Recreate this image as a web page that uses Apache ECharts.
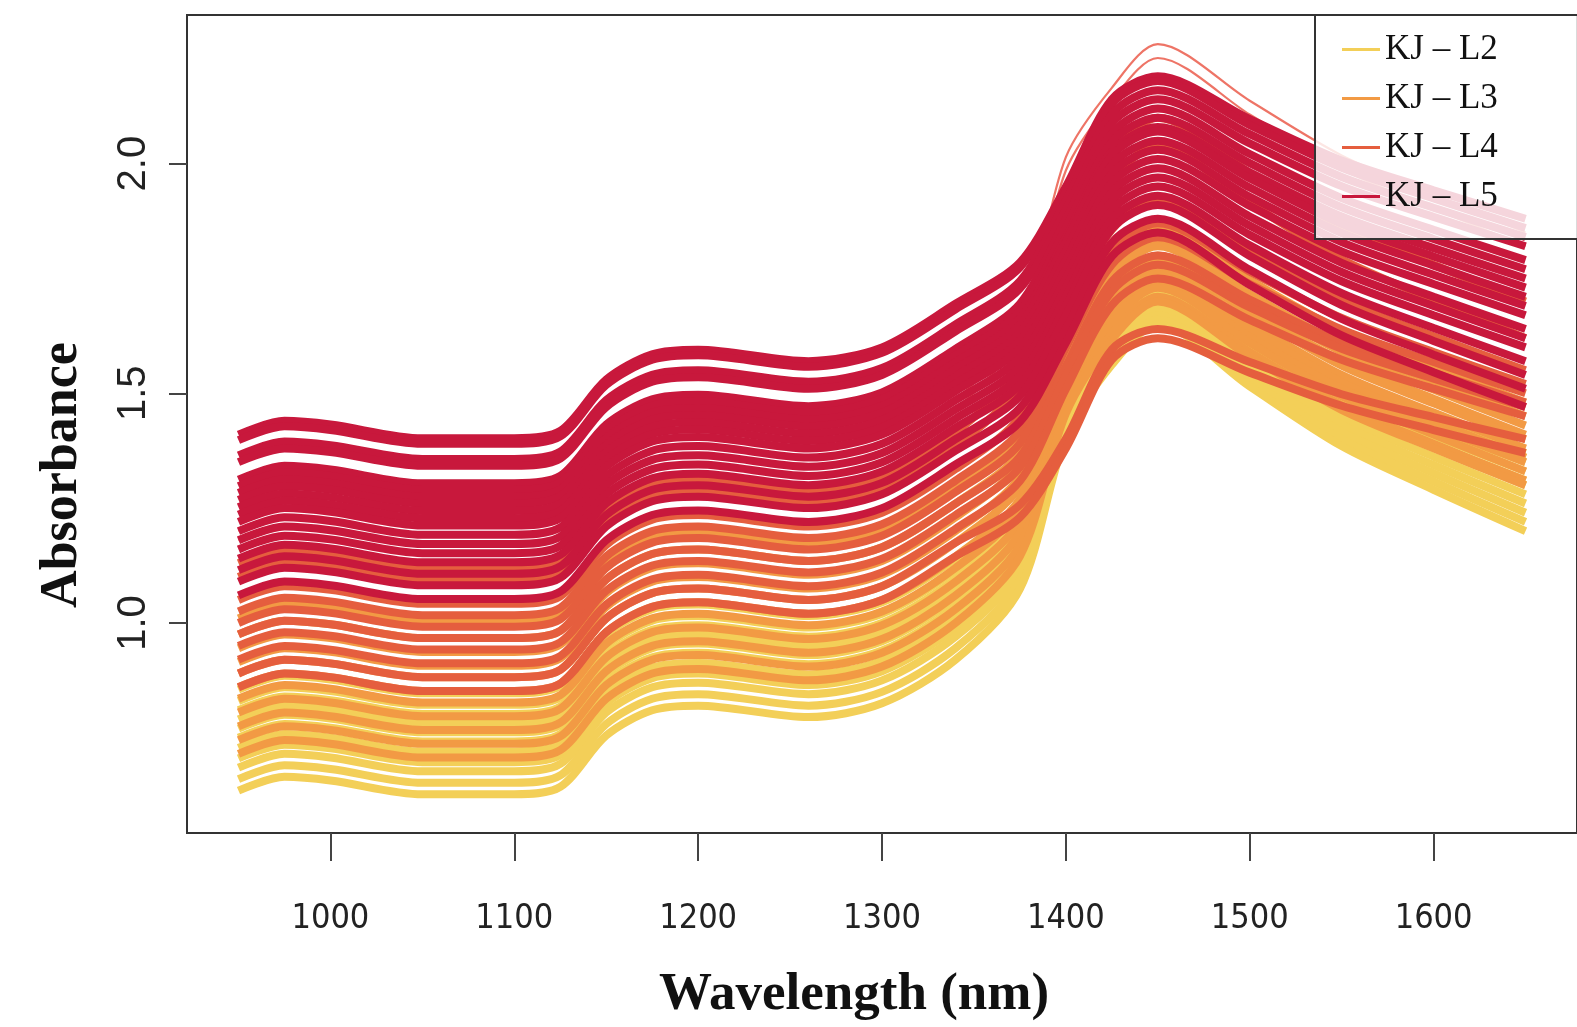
<!DOCTYPE html>
<html>
<head>
<meta charset="utf-8">
<script src="https://cdn.jsdelivr.net/npm/echarts@6/dist/echarts.min.js"></script>
<style>
html,body{margin:0;padding:0;background:#fff;}
#chart{width:1577px;height:1027px;}
</style>
</head>
<body>
<div id="chart"></div>
<script>
// Wavelength nodes (nm) at which each spectrum was read
const wavelengths = [950, 975, 1000, 1050, 1100, 1125, 1150, 1175, 1200, 1260, 1300, 1340, 1375, 1400, 1425, 1450, 1500, 1550, 1600, 1650];

const groupNames = ['KJ \u2013 L2', 'KJ \u2013 L3', 'KJ \u2013 L4', 'KJ \u2013 L5'];

const xTicks = [1000, 1100, 1200, 1300, 1400, 1500, 1600];
const yTicks = [1.0, 1.5, 2.0];

// Absorbance spectra, group KJ-L2
const spectraL2 = [
  [0.855, 0.885, 0.877, 0.847, 0.847, 0.863, 0.975, 1.030, 1.040, 1.015, 1.045, 1.140, 1.258, 1.498, 1.673, 1.740, 1.629, 1.522, 1.444, 1.370],
  [0.830, 0.860, 0.852, 0.822, 0.822, 0.838, 0.950, 1.005, 1.015, 0.990, 1.020, 1.115, 1.237, 1.488, 1.661, 1.730, 1.619, 1.512, 1.434, 1.360],
  [0.810, 0.840, 0.832, 0.802, 0.802, 0.818, 0.930, 0.985, 0.995, 0.970, 1.000, 1.095, 1.220, 1.477, 1.649, 1.720, 1.609, 1.502, 1.424, 1.350],
  [0.790, 0.820, 0.812, 0.782, 0.782, 0.798, 0.910, 0.965, 0.975, 0.950, 0.980, 1.075, 1.206, 1.477, 1.646, 1.720, 1.603, 1.490, 1.408, 1.330],
  [0.770, 0.800, 0.792, 0.762, 0.762, 0.778, 0.890, 0.945, 0.955, 0.930, 0.960, 1.055, 1.188, 1.467, 1.634, 1.710, 1.590, 1.474, 1.390, 1.310],
  [0.750, 0.780, 0.772, 0.742, 0.742, 0.758, 0.870, 0.925, 0.935, 0.910, 0.940, 1.035, 1.171, 1.457, 1.623, 1.700, 1.580, 1.464, 1.380, 1.300],
  [0.728, 0.758, 0.750, 0.720, 0.720, 0.736, 0.848, 0.903, 0.913, 0.888, 0.918, 1.013, 1.152, 1.446, 1.611, 1.690, 1.567, 1.448, 1.362, 1.280],
  [0.705, 0.735, 0.727, 0.697, 0.697, 0.713, 0.825, 0.880, 0.890, 0.865, 0.895, 0.990, 1.133, 1.436, 1.599, 1.680, 1.554, 1.432, 1.344, 1.260],
  [0.685, 0.715, 0.707, 0.677, 0.677, 0.693, 0.805, 0.860, 0.870, 0.845, 0.875, 0.970, 1.115, 1.426, 1.587, 1.670, 1.541, 1.416, 1.326, 1.240],
  [0.660, 0.690, 0.682, 0.652, 0.652, 0.668, 0.780, 0.835, 0.845, 0.820, 0.850, 0.945, 1.094, 1.416, 1.575, 1.660, 1.528, 1.400, 1.308, 1.220],
  [0.635, 0.665, 0.657, 0.627, 0.627, 0.643, 0.755, 0.810, 0.820, 0.795, 0.825, 0.920, 1.074, 1.405, 1.562, 1.650, 1.515, 1.385, 1.290, 1.200]
];

// Absorbance spectra, group KJ-L3
const spectraL3 = [
  [1.010, 1.040, 1.032, 1.002, 1.002, 1.018, 1.130, 1.185, 1.195, 1.170, 1.200, 1.295, 1.404, 1.619, 1.799, 1.860, 1.746, 1.636, 1.556, 1.480],
  [0.975, 1.005, 0.997, 0.967, 0.967, 0.983, 1.095, 1.150, 1.160, 1.135, 1.165, 1.260, 1.370, 1.589, 1.768, 1.830, 1.716, 1.606, 1.526, 1.450],
  [0.945, 0.975, 0.967, 0.937, 0.937, 0.953, 1.065, 1.120, 1.130, 1.105, 1.135, 1.230, 1.346, 1.578, 1.755, 1.820, 1.703, 1.590, 1.508, 1.430],
  [0.915, 0.945, 0.937, 0.907, 0.907, 0.923, 1.035, 1.090, 1.100, 1.075, 1.105, 1.200, 1.318, 1.558, 1.733, 1.800, 1.683, 1.570, 1.488, 1.410],
  [0.890, 0.920, 0.912, 0.882, 0.882, 0.898, 1.010, 1.065, 1.075, 1.050, 1.080, 1.175, 1.297, 1.548, 1.721, 1.790, 1.673, 1.560, 1.478, 1.400],
  [0.860, 0.890, 0.882, 0.852, 0.852, 0.868, 0.980, 1.035, 1.045, 1.020, 1.050, 1.145, 1.270, 1.527, 1.699, 1.770, 1.653, 1.540, 1.458, 1.380],
  [0.835, 0.865, 0.857, 0.827, 0.827, 0.843, 0.955, 1.010, 1.020, 0.995, 1.025, 1.120, 1.249, 1.517, 1.687, 1.760, 1.640, 1.524, 1.440, 1.360],
  [0.805, 0.835, 0.827, 0.797, 0.797, 0.813, 0.925, 0.980, 0.990, 0.965, 0.995, 1.090, 1.222, 1.497, 1.665, 1.740, 1.623, 1.510, 1.428, 1.350],
  [0.775, 0.805, 0.797, 0.767, 0.767, 0.783, 0.895, 0.950, 0.960, 0.935, 0.965, 1.060, 1.197, 1.487, 1.652, 1.730, 1.610, 1.494, 1.410, 1.330],
  [0.745, 0.775, 0.767, 0.737, 0.737, 0.753, 0.865, 0.920, 0.930, 0.905, 0.935, 1.030, 1.170, 1.466, 1.630, 1.710, 1.590, 1.474, 1.390, 1.310],
  [0.715, 0.745, 0.737, 0.707, 0.707, 0.723, 0.835, 0.890, 0.900, 0.875, 0.905, 1.000, 1.145, 1.456, 1.617, 1.700, 1.580, 1.464, 1.380, 1.300]
];

// Absorbance spectra, group KJ-L4
const spectraL4 = [
  [1.200, 1.230, 1.222, 1.192, 1.192, 1.208, 1.320, 1.375, 1.385, 1.360, 1.390, 1.485, 1.651, 2.014, 2.165, 2.260, 2.137, 2.018, 1.932, 1.850],
  [1.180, 1.210, 1.202, 1.172, 1.172, 1.188, 1.300, 1.355, 1.365, 1.340, 1.370, 1.465, 1.628, 1.985, 2.137, 2.230, 2.107, 1.988, 1.902, 1.820],
  [1.130, 1.160, 1.152, 1.122, 1.122, 1.138, 1.250, 1.305, 1.315, 1.290, 1.320, 1.415, 1.556, 1.856, 2.020, 2.100, 1.980, 1.864, 1.780, 1.700],
  [1.100, 1.130, 1.122, 1.092, 1.092, 1.108, 1.220, 1.275, 1.285, 1.260, 1.290, 1.385, 1.518, 1.797, 1.964, 2.040, 1.914, 1.792, 1.704, 1.620],
  [1.050, 1.080, 1.072, 1.042, 1.042, 1.058, 1.170, 1.225, 1.235, 1.210, 1.240, 1.335, 1.449, 1.678, 1.856, 1.920, 1.809, 1.702, 1.624, 1.550],
  [1.025, 1.055, 1.047, 1.017, 1.017, 1.033, 1.145, 1.200, 1.210, 1.185, 1.215, 1.310, 1.418, 1.629, 1.810, 1.870, 1.765, 1.664, 1.590, 1.520],
  [1.000, 1.030, 1.022, 0.992, 0.992, 1.008, 1.120, 1.175, 1.185, 1.160, 1.190, 1.285, 1.391, 1.599, 1.780, 1.840, 1.738, 1.639, 1.568, 1.500],
  [0.975, 1.005, 0.997, 0.967, 0.967, 0.983, 1.095, 1.150, 1.160, 1.135, 1.165, 1.260, 1.362, 1.559, 1.743, 1.800, 1.704, 1.611, 1.544, 1.480],
  [0.950, 0.980, 0.972, 0.942, 0.942, 0.958, 1.070, 1.125, 1.135, 1.110, 1.140, 1.235, 1.339, 1.539, 1.722, 1.780, 1.687, 1.597, 1.532, 1.470],
  [0.920, 0.950, 0.942, 0.912, 0.912, 0.928, 1.040, 1.095, 1.105, 1.080, 1.110, 1.205, 1.309, 1.509, 1.692, 1.750, 1.660, 1.573, 1.510, 1.450],
  [0.890, 0.920, 0.912, 0.882, 0.882, 0.898, 1.010, 1.065, 1.075, 1.050, 1.080, 1.175, 1.257, 1.401, 1.595, 1.640, 1.568, 1.498, 1.448, 1.400],
  [0.860, 0.890, 0.882, 0.852, 0.852, 0.868, 0.980, 1.035, 1.045, 1.020, 1.050, 1.145, 1.230, 1.380, 1.573, 1.620, 1.545, 1.473, 1.420, 1.370]
];

// Absorbance spectra, group KJ-L5
const spectraL5 = [
  [1.410, 1.440, 1.432, 1.402, 1.402, 1.418, 1.530, 1.585, 1.595, 1.570, 1.600, 1.695, 1.785, 1.950, 2.140, 2.190, 2.097, 2.007, 1.942, 1.880],
  [1.398, 1.428, 1.420, 1.390, 1.390, 1.406, 1.518, 1.573, 1.583, 1.558, 1.588, 1.683, 1.774, 1.940, 2.130, 2.180, 2.084, 1.991, 1.924, 1.860],
  [1.365, 1.395, 1.387, 1.357, 1.357, 1.373, 1.485, 1.540, 1.550, 1.525, 1.555, 1.650, 1.744, 1.920, 2.108, 2.160, 2.064, 1.971, 1.904, 1.840],
  [1.350, 1.380, 1.372, 1.342, 1.342, 1.358, 1.470, 1.525, 1.535, 1.510, 1.540, 1.635, 1.728, 1.900, 2.088, 2.140, 2.044, 1.951, 1.884, 1.820],
  [1.312, 1.342, 1.334, 1.304, 1.304, 1.320, 1.432, 1.487, 1.497, 1.472, 1.502, 1.597, 1.695, 1.879, 2.066, 2.120, 2.021, 1.925, 1.856, 1.790],
  [1.298, 1.328, 1.320, 1.290, 1.290, 1.306, 1.418, 1.473, 1.483, 1.458, 1.488, 1.583, 1.679, 1.860, 2.047, 2.100, 2.001, 1.905, 1.836, 1.770],
  [1.283, 1.313, 1.305, 1.275, 1.275, 1.291, 1.403, 1.458, 1.468, 1.443, 1.473, 1.568, 1.663, 1.840, 2.027, 2.080, 1.981, 1.885, 1.816, 1.750],
  [1.268, 1.298, 1.290, 1.260, 1.260, 1.276, 1.388, 1.443, 1.453, 1.428, 1.458, 1.553, 1.649, 1.830, 2.017, 2.070, 1.968, 1.869, 1.798, 1.730],
  [1.252, 1.282, 1.274, 1.244, 1.244, 1.260, 1.372, 1.427, 1.437, 1.412, 1.442, 1.537, 1.632, 1.810, 1.997, 2.050, 1.948, 1.849, 1.778, 1.710],
  [1.236, 1.266, 1.258, 1.228, 1.228, 1.244, 1.356, 1.411, 1.421, 1.396, 1.426, 1.521, 1.615, 1.790, 1.978, 2.030, 1.928, 1.829, 1.758, 1.690],
  [1.220, 1.250, 1.242, 1.212, 1.212, 1.228, 1.340, 1.395, 1.405, 1.380, 1.410, 1.505, 1.598, 1.770, 1.958, 2.010, 1.908, 1.809, 1.738, 1.670],
  [1.200, 1.230, 1.222, 1.192, 1.192, 1.208, 1.320, 1.375, 1.385, 1.360, 1.390, 1.485, 1.578, 1.750, 1.938, 1.990, 1.885, 1.784, 1.710, 1.640],
  [1.180, 1.210, 1.202, 1.172, 1.172, 1.188, 1.300, 1.355, 1.365, 1.340, 1.370, 1.465, 1.558, 1.730, 1.918, 1.970, 1.865, 1.764, 1.690, 1.620],
  [1.160, 1.190, 1.182, 1.152, 1.152, 1.168, 1.280, 1.335, 1.345, 1.320, 1.350, 1.445, 1.538, 1.710, 1.898, 1.950, 1.845, 1.744, 1.670, 1.600],
  [1.140, 1.170, 1.162, 1.132, 1.132, 1.148, 1.260, 1.315, 1.325, 1.300, 1.330, 1.425, 1.518, 1.690, 1.878, 1.930, 1.822, 1.718, 1.642, 1.570],
  [1.115, 1.145, 1.137, 1.107, 1.107, 1.123, 1.235, 1.290, 1.300, 1.275, 1.305, 1.400, 1.494, 1.670, 1.858, 1.910, 1.799, 1.692, 1.614, 1.540],
  [1.090, 1.120, 1.112, 1.082, 1.082, 1.098, 1.210, 1.265, 1.275, 1.250, 1.280, 1.375, 1.468, 1.640, 1.828, 1.880, 1.769, 1.662, 1.584, 1.510],
  [1.060, 1.090, 1.082, 1.052, 1.052, 1.068, 1.180, 1.235, 1.245, 1.220, 1.250, 1.345, 1.438, 1.610, 1.798, 1.850, 1.736, 1.626, 1.546, 1.470]
];

// ---- styling (kept apart from data) ----
const groupColors = ['#F3CF58', '#F29A44', '#E55E3E', '#C8183C'];
const groups = [spectraL2, spectraL3, spectraL4, spectraL5];
const thinLines = { 2: [0, 1] }; // pale, thin high-peak spectra of KJ-L4

const series = [];
groups.forEach((g, gi) => {
  g.forEach((spec, si) => {
    const thin = thinLines[gi] && thinLines[gi].indexOf(si) >= 0;
    series.push({
      type: 'line',
      name: groupNames[gi],
      data: wavelengths.map((w, i) => [w, spec[i]]),
      symbol: 'none',
      showSymbol: false,
      smooth: 0.3,
      silent: true,
      color: groupColors[gi],
      lineStyle: { width: thin ? 2.2 : 8, color: thin ? '#EE7466' : groupColors[gi] },
      itemStyle: { color: groupColors[gi] },
      emphasis: { disabled: true }
    });
  });
});

const chart = echarts.init(document.getElementById('chart'), null, { renderer: 'canvas' });
chart.setOption({
  animation: false,
  backgroundColor: '#ffffff',
  grid: {
    left: 187, top: 15, right: -16, bottom: 190,
    show: true, borderColor: '#333', borderWidth: 2, backgroundColor: 'transparent'
  },
  legend: {
    data: groupNames,
    orient: 'vertical',
    left: 1315, top: 15,
    icon: 'rect',
    itemWidth: 38, itemHeight: 3, itemGap: 14,
    padding: [17, 140, 25, 27],
    backgroundColor: 'rgba(255,255,255,0.82)',
    borderColor: '#333', borderWidth: 2, borderRadius: 0,
    selectedMode: false,
    textStyle: { fontFamily: "'Liberation Serif', 'Times New Roman', serif", fontSize: 35, color: '#111' }
  },
  xAxis: {
    type: 'value', min: 922, max: 1678,
    axisLine: { show: false },
    splitLine: { show: false },
    axisTick: { show: true, length: 28, customValues: xTicks, lineStyle: { color: '#444', width: 2 } },
    axisLabel: {
      customValues: xTicks, margin: 69, fontSize: 34, color: '#222',
      fontFamily: "'DejaVu Sans Condensed', 'Liberation Sans Narrow', 'Liberation Sans', Arial, sans-serif",
      formatter: v => String(v)
    },
    name: 'Wavelength (nm)', nameLocation: 'middle', nameGap: 136,
    nameTextStyle: { fontFamily: "'Liberation Serif', 'Times New Roman', serif", fontWeight: 'bold', fontSize: 53, color: '#111', padding: [0, 56, 0, 0] }
  },
  yAxis: {
    type: 'value', min: 0.5427, max: 2.3236,
    axisLine: { show: false },
    splitLine: { show: false },
    axisTick: { show: true, length: 18, customValues: yTicks, lineStyle: { color: '#444', width: 2 } },
    axisLabel: {
      customValues: yTicks, rotate: 90, margin: 33, fontSize: 40, color: '#222',
      fontFamily: "'Liberation Sans', Arial, sans-serif",
      formatter: v => Number(v).toFixed(1)
    },
    name: 'Absorbance', nameLocation: 'middle', nameRotate: 90, nameGap: 98,
    nameTextStyle: { fontFamily: "'Liberation Serif', 'Times New Roman', serif", fontWeight: 'bold', fontSize: 52, color: '#111', padding: [0, 102, 0, 0] }
  },
  series: series
});
</script>
</body>
</html>
